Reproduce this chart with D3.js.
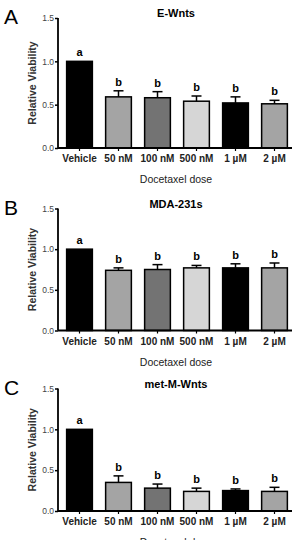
<!DOCTYPE html>
<html>
<head>
<meta charset="utf-8">
<script src="https://cdn.jsdelivr.net/npm/d3@7"></script>
<style>
  body { margin: 0; background: #fff; }
  svg { display: block; font-family: "Liberation Sans", Arial, sans-serif; }
</style>
</head>
<body>
<svg class="chart"></svg>
<script>
// data
const doses = ["Vehicle", "50 nM", "100 nM", "500 nM", "1 µM", "2 µM"];
const sigLetters = ["a", "b", "b", "b", "b", "b"];
const yTicks = [0, 0.5, 1.0, 1.5];

const eWntsMean = [1.0, 0.59, 0.58, 0.54, 0.52, 0.51];
const eWntsErr  = [0, 0.07, 0.07, 0.06, 0.07, 0.04];

const mdaMean = [1.0, 0.74, 0.75, 0.77, 0.77, 0.77];
const mdaErr  = [0, 0.03, 0.06, 0.03, 0.05, 0.06];

const metMean = [1.0, 0.35, 0.28, 0.24, 0.25, 0.24];
const metErr  = [0, 0.08, 0.05, 0.04, 0.02, 0.05];

const barFill = ["#000", "#a4a4a4", "#737373", "#d6d6d6", "#000", "#a4a4a4"];

const panels = [
  { letter: "A", title: "E-Wnts",     mean: eWntsMean, err: eWntsErr, top: 18,    bottom: 148 },
  { letter: "B", title: "MDA-231s",   mean: mdaMean,   err: mdaErr,   top: 208.5, bottom: 330.5 },
  { letter: "C", title: "met-M-Wnts", mean: metMean,   err: metErr,   top: 388.5, bottom: 511 }
];

let w = 300, h = 540;
let left = 58, right = 294;

var svg = d3.select(".chart")
            .attr("width", w)
            .attr("height", h);

var x = d3.scaleBand()
          .domain(doses)
          .range([left + 2, right])
          .paddingInner(0.34)
          .paddingOuter(0.17);

panels.forEach(function(p) {
  var y = d3.scaleLinear().domain([0, 1.5]).range([p.bottom, p.top]);
  var g = svg.append("g");

  // bars
  g.selectAll("rect")
    .data(p.mean)
    .enter().append("rect")
    .attr("x", (d, i) => x(doses[i]))
    .attr("y", d => y(d))
    .attr("width", x.bandwidth())
    .attr("height", d => y(0) - y(d))
    .attr("fill", (d, i) => barFill[i])
    .attr("stroke", "#000")
    .attr("stroke-width", 1.5);

  // error bars (upper only)
  p.mean.forEach(function(m, i) {
    if (!p.err[i]) return;
    var cx = x(doses[i]) + x.bandwidth() / 2;
    g.append("line")
      .attr("x1", cx).attr("x2", cx)
      .attr("y1", y(m)).attr("y2", y(m + p.err[i]))
      .attr("stroke", "#000").attr("stroke-width", 1.5);
    g.append("line")
      .attr("x1", cx - 5).attr("x2", cx + 5)
      .attr("y1", y(m + p.err[i])).attr("y2", y(m + p.err[i]))
      .attr("stroke", "#000").attr("stroke-width", 1.5);
  });

  // significance letters
  g.selectAll(".sig")
    .data(p.mean)
    .enter().append("text")
    .attr("class", "sig")
    .attr("x", (d, i) => x(doses[i]) + x.bandwidth() / 2)
    .attr("y", (d, i) => y(d + p.err[i]) - 5)
    .attr("text-anchor", "middle")
    .attr("font-size", "11px")
    .attr("font-weight", "bold")
    .text((d, i) => sigLetters[i]);

  // y axis
  var yAxis = g.append("g")
    .attr("transform", "translate(" + left + ",0)")
    .call(d3.axisLeft(y).tickValues(yTicks).tickFormat(d3.format(".1f")).tickSize(3).tickPadding(1));
  yAxis.select(".domain").attr("stroke-width", 1.8).attr("d", "M0," + p.top + "V" + p.bottom);
  yAxis.selectAll("line").attr("stroke-width", 1.5);
  yAxis.selectAll("text").attr("font-size", "8.5px").attr("fill", "#444").attr("font-family", "Liberation Sans, Arial, sans-serif");

  // x axis
  var xAxis = g.append("g")
    .attr("transform", "translate(0," + p.bottom + ")")
    .call(d3.axisBottom(x).tickSize(3).tickPadding(4));
  xAxis.select(".domain").attr("stroke-width", 1.8).attr("d", "M" + left + ",0H" + (right - 2));
  xAxis.selectAll("line").attr("stroke-width", 1.2);
  xAxis.selectAll("text").attr("font-size", "10px").attr("font-weight", "bold").attr("fill", "#222")
       .attr("font-family", "Liberation Sans, Arial, sans-serif");

  // axis titles
  g.append("text")
    .attr("transform", "translate(36," + ((p.top + p.bottom) / 2) + ") rotate(-90)")
    .attr("text-anchor", "middle")
    .attr("font-size", "10.5px")
    .attr("font-weight", "bold")
    .attr("fill", "#333")
    .text("Relative Viability");

  g.append("text")
    .attr("x", 176)
    .attr("y", p.bottom + 35)
    .attr("text-anchor", "middle")
    .attr("font-size", "10.5px")
    .attr("fill", "#222")
    .text("Docetaxel dose");

  // panel title and letter
  g.append("text")
    .attr("x", 176)
    .attr("y", p.top - 1)
    .attr("text-anchor", "middle")
    .attr("font-size", "11px")
    .attr("font-weight", "bold")
    .text(p.title);

  g.append("text")
    .attr("x", 4)
    .attr("y", p.top + 6)
    .attr("font-size", "21px")
    .text(p.letter);
});
</script>
</body>
</html>
